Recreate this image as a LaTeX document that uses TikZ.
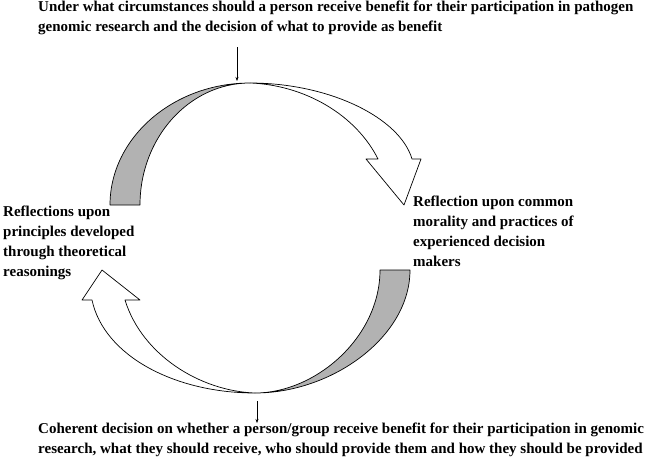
\documentclass[tikz,border=0pt]{standalone}
\usepackage{fontspec}
\setmainfont{Liberation Serif}
\usetikzlibrary{arrows.meta}
\begin{document}
\begin{tikzpicture}[x=1pt,y=-1pt,
  lbl/.style={font=\bfseries\fontsize{15}{20}\selectfont,align=left,inner sep=0pt},
  shp/.style={draw=black,line width=0.7pt,line join=round},
  pt/.style={-{Stealth[length=4pt,width=3pt]},line width=0.5pt}]
\useasboundingbox (0,0) rectangle (669,461);
% upper gray crescent
\draw[shp,fill=gray!60] (110,205) .. controls (110,138) and (173,83) .. (250,83)
   .. controls (189,83) and (140,138) .. (140,205) -- cycle;
% upper white arrow
\draw[shp,fill=white] (250,83) .. controls (330,83) and (400,118) .. (412,159)
   -- (421,159) -- (404,205) -- (366,159) -- (378,159)
   .. controls (356,115) and (305,85) .. (250,83);
% lower gray crescent
\draw[shp,fill=gray!60] (410,270) .. controls (410,337) and (332,393) .. (255,393)
   .. controls (316,393) and (380,337) .. (380,270) -- cycle;
% lower white arrow
\draw[shp,fill=white] (255,393) .. controls (175,393) and (104,356) .. (92,300)
   -- (82,300) -- (102,270) -- (140,300) -- (125,300)
   .. controls (142,355) and (200,391) .. (255,393);
% texts
\node[lbl,anchor=north west] (top) at (38,1) {Under what circumstances should a person receive benefit for their participation in pathogen\\genomic research and the decision of what to provide as benefit};
\node[lbl,anchor=north west] (left) at (3,206) {Reflections upon\\principles developed\\through theoretical\\reasonings};
\node[lbl,anchor=north west] (right) at (413,196) {Reflection upon common\\morality and practices of\\experienced decision\\makers};
\node[lbl,anchor=north west] (bot) at (38,423) {Coherent decision on whether a person/group receive benefit for their participation in genomic\\research, what they should receive, who should provide them and how they should be provided};
\coordinate (a1) at (237,47);
\coordinate (a2) at (237,81);
\coordinate (b1) at (257,401);
\coordinate (b2) at (257,423);
\draw[pt] (a1) -- (a2);
\draw[pt] (b1) -- (b2);
\end{tikzpicture}
\end{document}
